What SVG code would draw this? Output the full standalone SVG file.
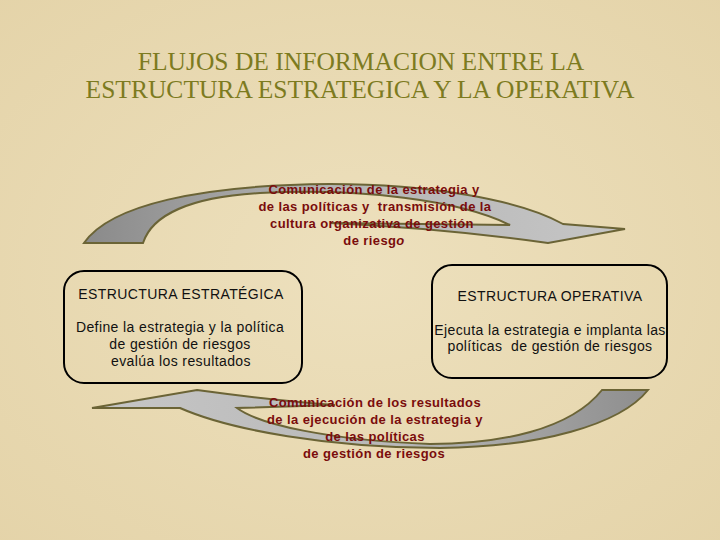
<svg xmlns="http://www.w3.org/2000/svg" width="720" height="540" viewBox="0 0 720 540">
<defs>
<radialGradient id="bg" cx="50%" cy="50%" r="75%">
<stop offset="0" stop-color="#ede0bd"/>
<stop offset="1" stop-color="#e4d3a8"/>
</radialGradient>
<linearGradient id="gTop" x1="84" y1="0" x2="625" y2="0" gradientUnits="userSpaceOnUse">
<stop offset="0" stop-color="#8a8a8a"/>
<stop offset="0.45" stop-color="#b4b4b4"/>
<stop offset="1" stop-color="#c6c6c6"/>
</linearGradient>
<linearGradient id="gBot" x1="92" y1="0" x2="648" y2="0" gradientUnits="userSpaceOnUse">
<stop offset="0" stop-color="#c6c6c6"/>
<stop offset="0.55" stop-color="#b8b8b8"/>
<stop offset="1" stop-color="#8e8e8e"/>
</linearGradient>
<style>
.title{font-family:"Liberation Serif","Times New Roman",serif;font-size:25.5px;fill:#7d7b1f;text-anchor:middle}
.box{fill:none;stroke:#000;stroke-width:2}
.bt{font-family:"Liberation Sans",Arial,sans-serif;font-size:14px;letter-spacing:0.4px;fill:#111;text-anchor:middle;white-space:pre}
.lbl{font-family:"Liberation Sans",Arial,sans-serif;font-size:13px;letter-spacing:0.4px;font-weight:bold;fill:#7a0c0c;text-anchor:middle;white-space:pre}
.arrow{stroke:#6b6436;stroke-width:2;stroke-linejoin:miter}
</style>
</defs>
<rect width="720" height="540" fill="url(#bg)"/>
<g id="title">
<text class="title" x="361" y="70">FLUJOS DE INFORMACION ENTRE LA</text>
<text class="title" x="360" y="98">ESTRUCTURA ESTRATEGICA Y LA OPERATIVA</text>
</g>
<g id="connectors">
<path id="arrow-top" class="arrow" fill="url(#gTop)" d="M84,243 C110,205 200,185 330,184 C430,184 520,200 563,224 L625,229 L548,243 Q440,228 330,223 L510,225 C460,200 360,188 260,193 C190,197 152,215 143,243 Z"/>
<path id="arrow-bottom" class="arrow" fill="url(#gBot)" d="M92,408 L197,390 Q270,400 335,405 L237,408 C260,425 330,440 430,444 C500,444 570,430 602,390 L648,390 C620,425 540,447 440,448 C330,448 230,430 180,408 Z"/>
</g>
<g id="label-top">
<text class="lbl" x="374" y="194">Comunicación de la estrategia y</text>
<text class="lbl" x="375" y="211">de las políticas y  transmisión de la</text>
<text class="lbl" x="372" y="228">cultura organizativa de gestión</text>
<text class="lbl" x="374" y="245">de riesg<tspan font-style="italic">o</tspan></text>
</g>
<g id="label-bottom">
<text class="lbl" x="375" y="407">Comunicación de los resultados</text>
<text class="lbl" x="375" y="424">de la ejecución de la estrategia y</text>
<text class="lbl" x="375" y="441">de las políticas</text>
<text class="lbl" x="374" y="458">de gestión de riesgos</text>
</g>
<g id="node-estrategica">
<rect class="box" x="64" y="271" width="238" height="112" rx="20"/>
<text class="bt" x="181" y="299">ESTRUCTURA ESTRATÉGICA</text>
<text class="bt" x="180" y="332">Define la estrategia y la política</text>
<text class="bt" x="180" y="349">de gestión de riesgos</text>
<text class="bt" x="181" y="366">evalúa los resultados</text>
</g>
<g id="node-operativa">
<rect class="box" x="432" y="265" width="235" height="113" rx="20"/>
<text class="bt" x="550" y="301">ESTRUCTURA OPERATIVA</text>
<text class="bt" x="550" y="335">Ejecuta la estrategia e implanta las</text>
<text class="bt" x="550" y="351">políticas  de gestión de riesgos</text>
</g>
</svg>
